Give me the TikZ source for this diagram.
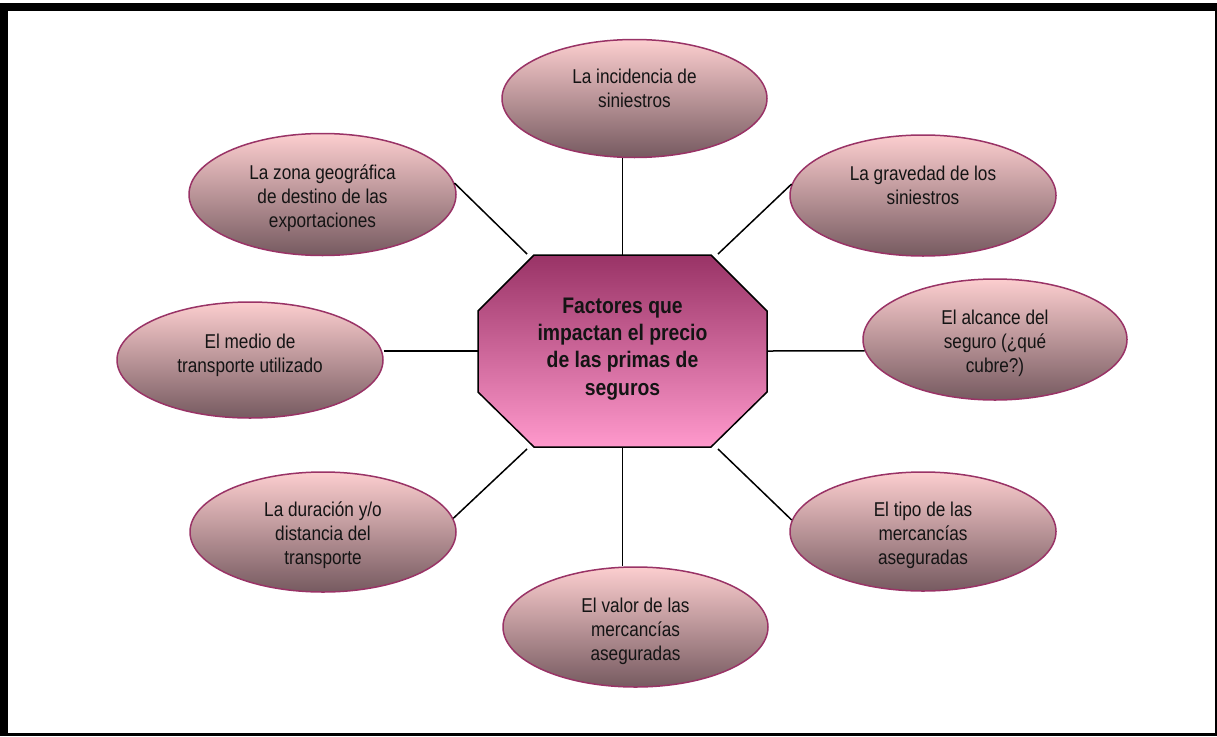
\documentclass[tikz,border=0pt]{standalone}
\usepackage{fontspec}
\setmainfont[FakeStretch=0.86]{Liberation Sans}
\usetikzlibrary{shapes.geometric}
\definecolor{ellTop}{RGB}{252,206,207}
\definecolor{ellMid}{RGB}{220,174,177}
\definecolor{ellBot}{RGB}{118,90,96}
\definecolor{ellLine}{RGB}{153,51,102}
\definecolor{octTop}{RGB}{153,51,102}
\definecolor{octBot}{RGB}{255,153,204}
\definecolor{txt}{RGB}{20,20,20}
\newcommand{\mlines}[2]{\vtop{\baselineskip=#1\halign{\hfil##\hfil\cr#2\crcr}}}
\tikzset{
  ell/.style={ellipse, draw=ellLine, line width=1.5pt, inner sep=0pt,
    top color=ellTop, middle color=ellMid, bottom color=ellBot},
  lbl/.style={anchor=base, inner sep=0pt, text=txt, font=\fontsize{20}{24}\selectfont},
  ctr/.style={anchor=base, inner sep=0pt, text=txt, font=\fontsize{22.5}{27.3}\selectfont\bfseries},
  conn/.style={draw=black, line width=1.5pt},
  frame/.style={fill=black}
}
\begin{document}
\begin{tikzpicture}[x=1pt,y=-1pt]
\useasboundingbox (0,0) rectangle (1217,736);
% frame
\fill[frame] (0,3) rectangle (1217,11);
\fill[frame] (0,3) rectangle (8,736);
\fill[frame] (1215,3) rectangle (1217,736);
\fill[frame] (0,733) rectangle (1217,736);

% central octagon
\shade[top color=octTop, bottom color=octBot, draw=black, line width=1.5pt]
  (534,255) -- (711,255) -- (767,311) -- (767,392) -- (711,447) -- (534,447) -- (478,392) -- (478,311) -- cycle;
\node[minimum width=289pt, minimum height=192pt, inner sep=0pt] (oct) at (622.5,351) {};
\node[ctr] (t0) at (622.5,313.3) {\mlines{27.3pt}{Factores que\cr impactan el precio\cr de las primas de\cr seguros}};

% ellipses
\node[ell, minimum width=265pt, minimum height=118pt] (e1) at (634.5,98.5) {};
\node[ell, minimum width=267pt, minimum height=122pt] (e2) at (322.5,194.5) {};
\node[ell, minimum width=266pt, minimum height=121pt] (e3) at (923,195.5) {};
\node[ell, minimum width=266pt, minimum height=116pt] (e4) at (250,360) {};
\node[ell, minimum width=264pt, minimum height=121pt] (e5) at (995,339.5) {};
\node[ell, minimum width=266pt, minimum height=120pt] (e6) at (323,532) {};
\node[ell, minimum width=266pt, minimum height=119pt] (e7) at (923,531.5) {};
\node[ell, minimum width=265pt, minimum height=120pt] (e8) at (635.5,627) {};

\node[lbl] (t1) at ([yshift=15pt]e1.center) {\mlines{24pt}{La incidencia de\cr siniestros}};
\node[lbl] (t2) at ([yshift=15pt]e2.center) {\mlines{24pt}{La zona geográfica\cr de destino de las\cr exportaciones}};
\node[lbl] (t3) at ([yshift=15pt]e3.center) {\mlines{24pt}{La gravedad de los\cr siniestros}};
\node[lbl] (t4) at ([yshift=12pt]e4.center) {\mlines{24pt}{El medio de\cr transporte utilizado}};
\node[lbl] (t5) at ([yshift=15.5pt]e5.center) {\mlines{24pt}{El alcance del\cr seguro (¿qué\cr cubre?)}};
\node[lbl] (t6) at ([yshift=16pt]e6.center) {\mlines{24pt}{La duración y/o\cr distancia del\cr transporte}};
\node[lbl] (t7) at ([yshift=15pt]e7.center) {\mlines{24pt}{El tipo de las\cr mercancías\cr aseguradas}};
\node[lbl] (t8) at ([yshift=15pt]e8.center) {\mlines{24pt}{El valor de las\cr mercancías\cr aseguradas}};

% connectors
\coordinate (oNW) at (527,254);
\coordinate (oNE) at (718,254);
\coordinate (oSW) at (527,449);
\coordinate (oSE) at (718,449);
\draw[conn] (oct.north) -- (oct.north |- e1.south);
\draw[conn] (oct.south) -- (oct.south |- e8.north);
\draw[conn] (oct.west) -- (oct.west -| e4.east);
\draw[conn] (oct.east) -- (e5.185);
\draw[conn] (oNW) -- (e2.5);
\draw[conn] (oNE) -- (e3.175);
\draw[conn] (oSW) -- (e6.6);
\draw[conn] (oSE) -- (e7.175);
\end{tikzpicture}
\end{document}
